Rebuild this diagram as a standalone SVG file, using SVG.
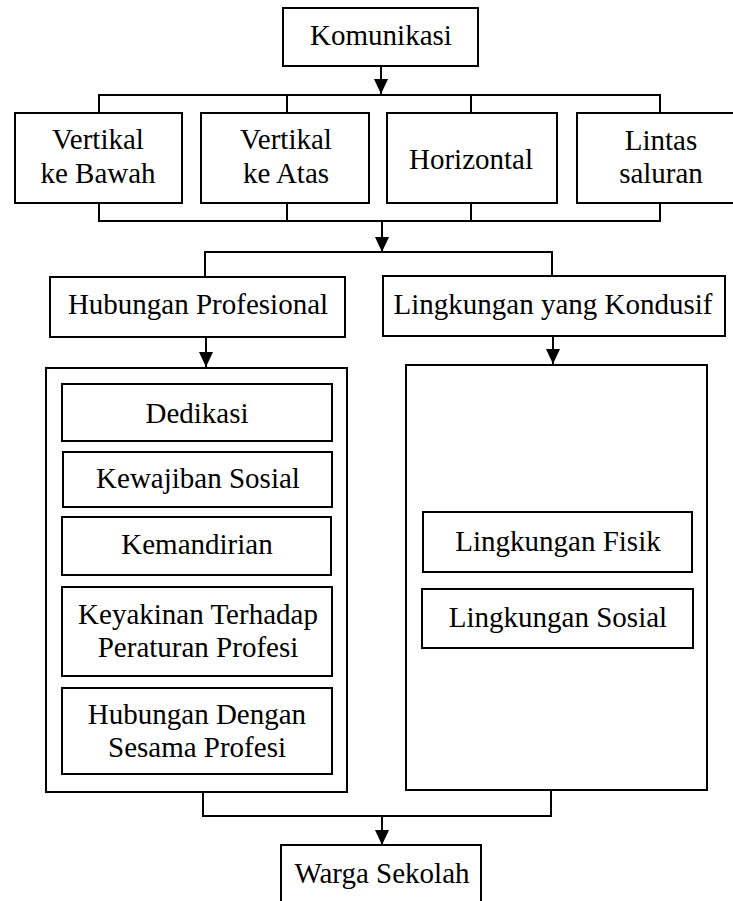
<svg xmlns="http://www.w3.org/2000/svg" width="733" height="901" viewBox="0 0 733 901" font-family="'Liberation Serif', 'DejaVu Serif', serif">
<style>
  .box { fill: #fff; stroke: #000; stroke-width: 2; }
  .ln { fill: none; stroke: #000; stroke-width: 2; }
  .t { font-family: 'Liberation Serif', 'Times New Roman', 'DejaVu Serif', serif; font-size: 29px; fill: #000; text-anchor: middle; }
</style>
<defs>
  <marker id="ah" markerUnits="userSpaceOnUse" markerWidth="16" markerHeight="16" viewBox="0 0 16 16" refX="15" refY="8" orient="auto">
    <path d="M0,1 L15,8 L0,15 Z" fill="#000"/>
  </marker>
</defs>
<rect width="733" height="901" fill="#fff"/>

<g id="connectors">
  <line class="ln" x1="381" y1="66" x2="381" y2="94" marker-end="url(#ah)"/>
  <polyline class="ln" points="99,113 99,95 660,95 660,113"/>
  <line class="ln" x1="287" y1="95" x2="287" y2="113"/>
  <line class="ln" x1="471" y1="95" x2="471" y2="113"/>
  <polyline class="ln" points="99,203 99,221 660,221 660,203"/>
  <line class="ln" x1="287" y1="203" x2="287" y2="221"/>
  <line class="ln" x1="471" y1="203" x2="471" y2="221"/>
  <line class="ln" x1="382" y1="221" x2="382" y2="252" marker-end="url(#ah)"/>
  <polyline class="ln" points="205,277 205,252 552,252 552,276"/>
  <line class="ln" x1="206" y1="337" x2="206" y2="367" marker-end="url(#ah)"/>
  <line class="ln" x1="553" y1="336" x2="553" y2="364" marker-end="url(#ah)"/>
  <line class="ln" x1="46" y1="418" x2="62" y2="418"/>
  <line class="ln" x1="332" y1="417" x2="347" y2="417"/>
  <line class="ln" x1="46" y1="486" x2="63" y2="486"/>
  <line class="ln" x1="332" y1="484" x2="347" y2="484"/>
  <line class="ln" x1="46" y1="547" x2="62" y2="547"/>
  <line class="ln" x1="331" y1="544" x2="347" y2="544"/>
  <line class="ln" x1="46" y1="635" x2="62" y2="635"/>
  <line class="ln" x1="332" y1="632" x2="347" y2="632"/>
  <line class="ln" x1="46" y1="733" x2="62" y2="733"/>
  <line class="ln" x1="332" y1="732" x2="347" y2="732"/>
  <line class="ln" x1="406" y1="542" x2="423" y2="542"/>
  <line class="ln" x1="692" y1="543" x2="707" y2="543"/>
  <line class="ln" x1="406" y1="613" x2="422" y2="613"/>
  <line class="ln" x1="693" y1="614" x2="707" y2="614"/>
  <polyline class="ln" points="203,792 203,816 551,816 551,790"/>
  <line class="ln" x1="382" y1="816" x2="382" y2="845" marker-end="url(#ah)"/>
</g>

<g id="komunikasi">
  <rect class="box" x="283" y="8" width="195" height="58"/>
  <text class="t" x="381" y="45">Komunikasi</text>
</g>
<g id="vertikal-bawah">
  <rect class="box" x="15" y="113" width="167" height="90"/>
  <text class="t" x="98" y="149">Vertikal</text>
  <text class="t" x="98" y="183">ke Bawah</text>
</g>
<g id="vertikal-atas">
  <rect class="box" x="201" y="113" width="168" height="90"/>
  <text class="t" x="286" y="149">Vertikal</text>
  <text class="t" x="286" y="183">ke Atas</text>
</g>
<g id="horizontal">
  <rect class="box" x="387" y="113" width="170" height="90"/>
  <text class="t" x="471" y="169">Horizontal</text>
</g>
<g id="lintas-saluran">
  <rect class="box" x="577" y="113" width="166" height="90"/>
  <text class="t" x="661" y="150">Lintas</text>
  <text class="t" x="661" y="183">saluran</text>
</g>
<g id="hubungan-profesional">
  <rect class="box" x="50" y="277" width="295" height="60"/>
  <text class="t" x="198" y="314">Hubungan Profesional</text>
</g>
<g id="lingkungan-kondusif">
  <rect class="box" x="383" y="276" width="342" height="60"/>
  <text class="t" x="553" y="314">Lingkungan yang Kondusif</text>
</g>
<g id="left-container">
  <rect class="box" x="46" y="368" width="301" height="424"/>
</g>
<g id="right-container">
  <rect class="box" x="406" y="365" width="301" height="425"/>
</g>
<g id="dedikasi">
  <rect class="box" x="62" y="384" width="270" height="57"/>
  <text class="t" x="197" y="423">Dedikasi</text>
</g>
<g id="kewajiban-sosial">
  <rect class="box" x="63" y="452" width="269" height="55"/>
  <text class="t" x="198" y="488">Kewajiban Sosial</text>
</g>
<g id="kemandirian">
  <rect class="box" x="62" y="517" width="269" height="58"/>
  <text class="t" x="197" y="554">Kemandirian</text>
</g>
<g id="keyakinan">
  <rect class="box" x="62" y="587" width="270" height="89"/>
  <text class="t" x="198" y="624">Keyakinan Terhadap</text>
  <text class="t" x="198" y="657">Peraturan Profesi</text>
</g>
<g id="hubungan-dengan">
  <rect class="box" x="62" y="688" width="270" height="86"/>
  <text class="t" x="197" y="724">Hubungan Dengan</text>
  <text class="t" x="197" y="757">Sesama Profesi</text>
</g>
<g id="lingkungan-fisik">
  <rect class="box" x="423" y="512" width="269" height="60"/>
  <text class="t" x="558" y="551">Lingkungan Fisik</text>
</g>
<g id="lingkungan-sosial">
  <rect class="box" x="422" y="589" width="271" height="59"/>
  <text class="t" x="558" y="627">Lingkungan Sosial</text>
</g>
<g id="warga-sekolah">
  <rect class="box" x="281" y="845" width="200" height="60"/>
  <text class="t" x="382" y="883">Warga Sekolah</text>
</g>
</svg>
